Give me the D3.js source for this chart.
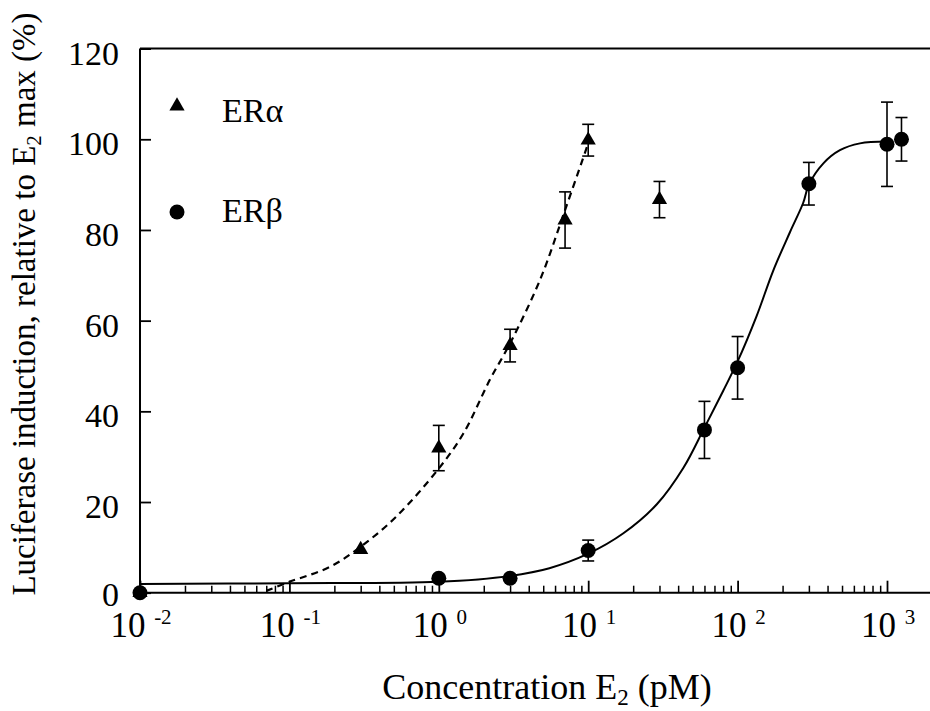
<!DOCTYPE html>
<html>
<head>
<meta charset="utf-8">
<script src="https://cdn.jsdelivr.net/npm/d3@7"></script>
<style>
  body { margin: 0; background: #fff; }
  text { font-family: "Liberation Serif", "Times New Roman", "DejaVu Serif", serif; fill: #000; }
</style>
</head>
<body>
<div id="chart"></div>
<script>
// Concentrations (pM) and responses (%)
var alphaConc = [0.01, 0.3, 1, 3, 7, 10, 30];
var alphaResp = [0, 9.5, 31.9, 54.5, 82.2, 99.8, 86.7];
var alphaErr  = [0, 0, 5, 3.6, 6.2, 3.5, 4];

var betaConc = [0.01, 1, 3, 10, 60, 100, 300, 1000, 1250];
var betaResp = [0, 3.2, 3.2, 9.3, 35.9, 49.6, 90.2, 98.9, 100];
var betaErr  = [0, 0, 0, 2.3, 6.3, 6.9, 4.7, 9.3, 4.8];

// fitted curves
var alphaFitConc = [0.07, 0.1, 0.187, 0.31, 0.52, 1, 1.46, 2.2, 3, 4.76, 7, 10];
var alphaFitResp = [0.4, 2.4, 5.7, 10.5, 16.8, 27.4, 35.1, 47, 55, 69, 84.4, 99.1];

var betaFitConc = [0.01, 0.1, 1, 3, 5.5, 10, 17.2, 28.8, 43.3, 60, 80, 100, 134, 173, 224, 275, 300, 375, 484, 659, 1000];
var betaFitResp = [1.9, 2.1, 2.4, 3.7, 5.4, 8.6, 13.1, 19.5, 27.5, 36.4, 44.5, 51, 61, 71, 79.5, 86, 90.0, 94.7, 97.6, 99.1, 99.5];

var yTicks = [0, 20, 40, 60, 80, 100, 120];
var decades = [-2, -1, 0, 1, 2, 3];

var width = 930;
var height = 711;

var svg = d3.select("#chart")
  .append("svg")
  .attr("width", width)
  .attr("height", height);

var x = d3.scaleLog().domain([0.01, 1940]).range([140, 930]);
var y = d3.scaleLinear().domain([0, 120]).range([592.7, 48.6]);

// frame: left axis, top line, bottom axis
svg.append("line")
  .attr("x1", x(0.01)).attr("x2", x(0.01))
  .attr("y1", y(120)).attr("y2", y(0))
  .attr("stroke", "#000").attr("stroke-width", 2);
svg.append("line")
  .attr("x1", x(0.01)).attr("x2", width)
  .attr("y1", y(120)).attr("y2", y(120))
  .attr("stroke", "#000").attr("stroke-width", 2);
svg.append("line")
  .attr("x1", x(0.01)).attr("x2", width)
  .attr("y1", y(0)).attr("y2", y(0))
  .attr("stroke", "#000").attr("stroke-width", 2);

// y ticks (inward)
var yAxis = d3.axisRight(y).tickValues(yTicks).tickSize(11).tickFormat("");
var gy = svg.append("g")
  .attr("transform", "translate(" + x(0.01) + ",0)")
  .call(yAxis);
gy.select(".domain").remove();
gy.selectAll(".tick line").attr("stroke-width", 1.8);

svg.append("g").selectAll("text")
  .data(yTicks)
  .enter()
  .append("text")
  .attr("x", 119)
  .attr("y", function(d) { return y(d) + (d === 0 ? 13 : 16); })
  .attr("text-anchor", "end")
  .attr("font-size", 34)
  .text(function(d) { return d; });

// x ticks: majors at decades, minors in between
var majors = decades.map(function(d) { return Math.pow(10, d); });
var minors = x.ticks().filter(function(v) {
  var l = Math.log10(v);
  return Math.abs(l - Math.round(l)) > 1e-6;
});

var gxMinor = svg.append("g")
  .attr("transform", "translate(0," + y(0) + ")")
  .call(d3.axisBottom(x).tickValues(minors).tickSize(-7).tickFormat(""));
gxMinor.select(".domain").remove();
gxMinor.selectAll(".tick line").attr("stroke-width", 1.5);

var gxMajor = svg.append("g")
  .attr("transform", "translate(0," + y(0) + ")")
  .call(d3.axisBottom(x).tickValues(majors).tickSize(-12).tickFormat(""));
gxMajor.select(".domain").remove();
gxMajor.selectAll(".tick line").attr("stroke-width", 1.8);

var xLabels = svg.append("g").selectAll("text")
  .data(decades)
  .enter()
  .append("text")
  .attr("x", function(d) { return x(Math.pow(10, d)) + 1; })
  .attr("y", 637)
  .attr("text-anchor", "middle")
  .attr("font-size", 35);
xLabels.append("tspan").text("10 ");
xLabels.append("tspan")
  .attr("font-size", 21)
  .attr("dy", -13)
  .text(function(d) { return d; });

// axis titles
var xTitle = svg.append("text")
  .attr("x", 547)
  .attr("y", 699)
  .attr("text-anchor", "middle")
  .attr("font-size", 36);
xTitle.append("tspan").text("Concentration E");
xTitle.append("tspan").attr("font-size", 23).attr("dy", 6).text("2");
xTitle.append("tspan").attr("dy", -6).text(" (pM)");

var yTitle = svg.append("text")
  .attr("transform", "translate(35,304)rotate(-90)")
  .attr("text-anchor", "middle")
  .attr("font-size", 33);
yTitle.append("tspan").text("Luciferase induction, relative to E");
yTitle.append("tspan").attr("font-size", 21).attr("dy", 6).text("2");
yTitle.append("tspan").attr("dy", -6).text(" max (%)");

// fitted curves
var line = d3.line()
  .x(function(d) { return x(d[0]); })
  .y(function(d) { return y(d[1]); })
  .curve(d3.curveCatmullRom.alpha(0.5));

svg.append("path")
  .datum(d3.zip(betaFitConc, betaFitResp))
  .attr("d", line)
  .attr("fill", "none")
  .attr("stroke", "#000")
  .attr("stroke-width", 2);

svg.append("path")
  .datum(d3.zip(alphaFitConc, alphaFitResp))
  .attr("d", line)
  .attr("fill", "none")
  .attr("stroke", "#000")
  .attr("stroke-width", 2.2)
  .attr("stroke-dasharray", "7,5");

// error bars
function errorBars(conc, resp, err) {
  var data = d3.zip(conc, resp, err).filter(function(d) { return d[2] > 0; });
  var g = svg.append("g").attr("stroke", "#000").attr("stroke-width", 1.6);
  g.selectAll("line.v").data(data).enter().append("line")
    .attr("x1", function(d) { return x(d[0]); })
    .attr("x2", function(d) { return x(d[0]); })
    .attr("y1", function(d) { return y(d[1] + d[2]); })
    .attr("y2", function(d) { return y(d[1] - d[2]); });
  [1, -1].forEach(function(s) {
    g.selectAll("line.c" + s).data(data).enter().append("line")
      .attr("x1", function(d) { return x(d[0]) - 6; })
      .attr("x2", function(d) { return x(d[0]) + 6; })
      .attr("y1", function(d) { return y(d[1] + s * d[2]); })
      .attr("y2", function(d) { return y(d[1] + s * d[2]); });
  });
}
errorBars(alphaConc, alphaResp, alphaErr);
errorBars(betaConc, betaResp, betaErr);

// markers
var tri = d3.symbol().type(d3.symbolTriangle).size(100);

svg.append("g").selectAll("path")
  .data(d3.zip(alphaConc, alphaResp))
  .enter()
  .append("path")
  .attr("d", tri)
  .attr("transform", function(d) { return "translate(" + x(d[0]) + "," + y(d[1]) + ")"; })
  .attr("fill", "#000");

svg.append("g").selectAll("circle")
  .data(d3.zip(betaConc, betaResp))
  .enter()
  .append("circle")
  .attr("cx", function(d) { return x(d[0]); })
  .attr("cy", function(d) { return y(d[1]); })
  .attr("r", 7.5)
  .attr("fill", "#000");

// legend
svg.append("path")
  .attr("d", tri)
  .attr("transform", "translate(177,106)")
  .attr("fill", "#000");
svg.append("text")
  .attr("x", 222).attr("y", 122)
  .attr("font-size", 34)
  .text("ERα");

svg.append("circle")
  .attr("cx", 177).attr("cy", 212)
  .attr("r", 7.5)
  .attr("fill", "#000");
svg.append("text")
  .attr("x", 222).attr("y", 222)
  .attr("font-size", 34)
  .text("ERβ");
</script>
</body>
</html>
